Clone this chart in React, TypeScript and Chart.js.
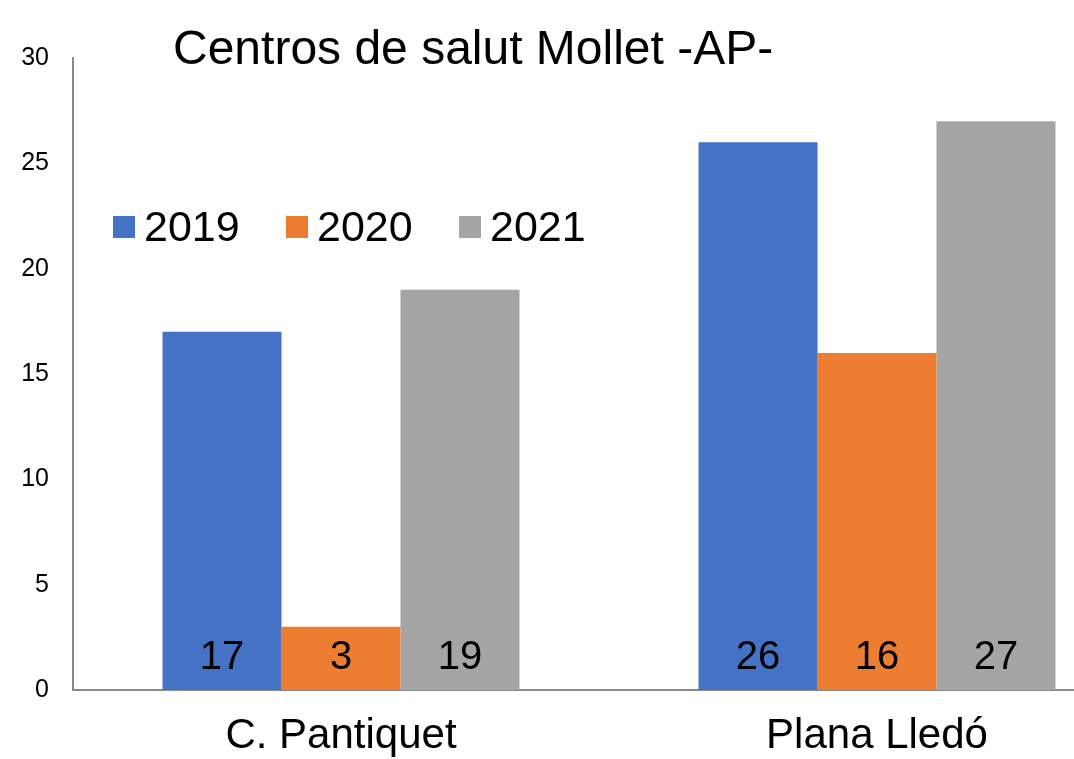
import React, { useEffect, useRef } from "react";
import { Chart, registerables } from "chart.js";

Chart.register(...registerables);

const TITLE = "Centros de salut Mollet -AP-";
const CATEGORIES = ["C. Pantiquet", "Plana Lledó"];
const SERIES_NAMES = ["2019", "2020", "2021"];
const VALUES_2019 = [17, 26];
const VALUES_2020 = [3, 16];
const VALUES_2021 = [19, 27];
const COLORS = ["#4472C4", "#ED7D31", "#A5A5A5"];
const Y_MIN = 0;
const Y_MAX = 30;
const Y_STEP = 5;

const FONT = "'Liberation Sans', Arial, sans-serif";

const overlayPlugin = {
  id: "overlay",
  afterDatasetsDraw(chart: any) {
    const ctx = chart.ctx;
    ctx.save();
    // data labels at bottom of bars
    ctx.font = `40px ${FONT}`;
    ctx.fillStyle = "#000";
    ctx.textAlign = "center";
    ctx.textBaseline = "alphabetic";
    const yZero = chart.scales.y.getPixelForValue(0);
    chart.data.datasets.forEach((ds: any, di: number) => {
      const meta = chart.getDatasetMeta(di);
      meta.data.forEach((bar: any, i: number) => {
        ctx.fillText(String(ds.data[i]), bar.x, yZero - 21);
      });
    });
    // title
    ctx.font = `48px ${FONT}`;
    ctx.textAlign = "left";
    ctx.fillText(TITLE, 173, 64);
    // legend
    const boxX = [113, 286, 459];
    ctx.font = `43px ${FONT}`;
    SERIES_NAMES.forEach((name, i) => {
      ctx.fillStyle = COLORS[i];
      ctx.fillRect(boxX[i], 216, 22, 22);
      ctx.fillStyle = "#000";
      ctx.fillText(name, boxX[i] + 31, 241);
    });
    ctx.restore();
  },
};

export default function App() {
  const ref = useRef<HTMLCanvasElement | null>(null);
  useEffect(() => {
    document.body.style.margin = "0";
    document.body.style.overflow = "hidden";
    document.documentElement.style.overflow = "hidden";
    const values = [VALUES_2019, VALUES_2020, VALUES_2021];
    const chart = new Chart(ref.current as HTMLCanvasElement, {
      type: "bar",
      data: {
        labels: CATEGORIES,
        datasets: SERIES_NAMES.map((name, i) => ({
          label: name,
          data: values[i],
          backgroundColor: COLORS[i],
          borderWidth: 0,
          categoryPercentage: 0.666,
          barPercentage: 1,
        })),
      },
      options: {
        animation: false,
        responsive: false,
        maintainAspectRatio: false,
        layout: { padding: { top: 58, right: 1, left: 0, bottom: 0 } },
        plugins: {
          legend: { display: false },
          title: { display: false },
          tooltip: { enabled: false },
        },
        scales: {
          x: {
            grid: { display: false, drawTicks: false },
            border: { color: "#898989", width: 2 },
            ticks: {
              color: "#000",
              font: { family: FONT, size: 42 },
              padding: 21,
            },
            afterFit: (s: any) => {
              s.height = 69;
            },
          },
          y: {
            min: Y_MIN,
            max: Y_MAX,
            grid: { display: false, drawTicks: false },
            border: { color: "#898989", width: 2 },
            ticks: {
              stepSize: Y_STEP,
              color: "#000",
              font: { family: FONT, size: 25 },
              padding: 24,
            },
            afterFit: (s: any) => {
              s.width = 73;
            },
          },
        },
      },
      plugins: [overlayPlugin],
    });
    return () => chart.destroy();
  }, []);
  return (
    <div style={{ width: 1146, height: 759 }}>
      <canvas ref={ref} width={1146} height={759} style={{ display: "block" }} />
    </div>
  );
}
